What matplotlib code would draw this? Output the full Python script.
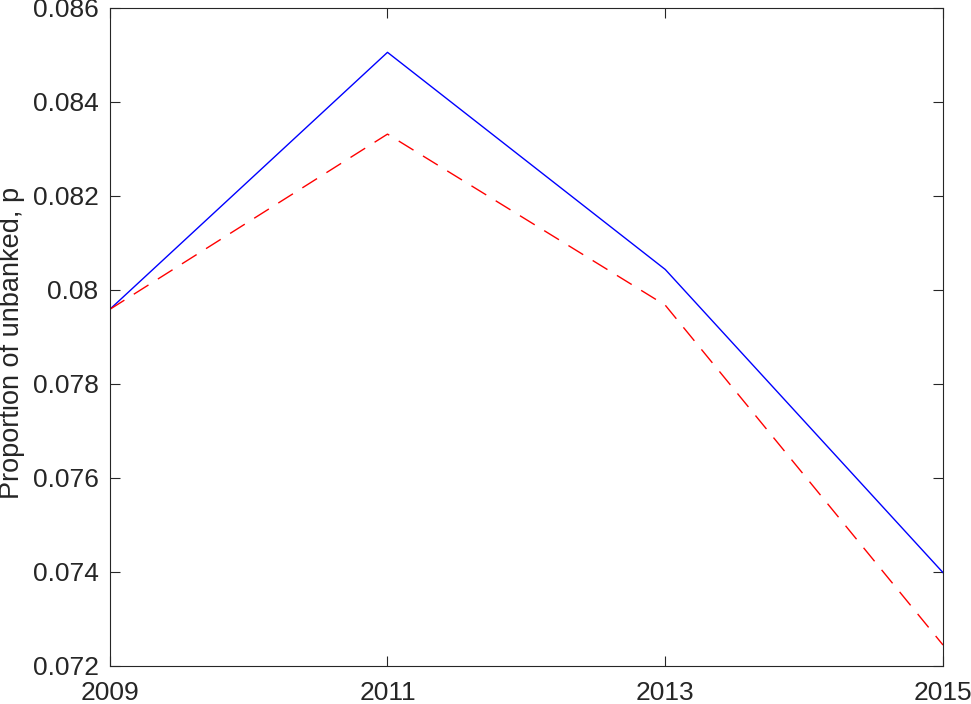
import numpy as np
import matplotlib
matplotlib.use('Agg')
import matplotlib.pyplot as plt

years = [2009, 2011, 2013, 2015]
p_solid = [0.07958, 0.08505, 0.08043, 0.07398]
p_dashed = [0.07958, 0.08331, 0.07967, 0.07244]

plt.rcParams['font.family'] = ['Liberation Sans', 'DejaVu Sans']

fig = plt.figure(figsize=(9.71, 7.04), dpi=100)
ax = fig.add_axes([0.113, 0.0544, 0.8582, 0.9347])

ax.plot(years, p_solid, color='#0000ff', lw=1.0)
ax.plot(years, p_dashed, color='#ff0000', lw=1.0, dashes=(12.5, 8))

ax.set_xlim(2009, 2015)
ax.set_ylim(0.072, 0.086)
ax.set_xticks(years)
ax.set_yticks([0.072, 0.074, 0.076, 0.078, 0.08, 0.082, 0.084, 0.086])
ax.set_yticklabels(['0.072', '0.074', '0.076', '0.078', '0.08', '0.082', '0.084', '0.086'])
ax.set_ylabel('Proportion of unbanked, p', fontsize=19.5, color='#262626')
ax.yaxis.set_label_coords(-0.1015, 0.49)

ax.tick_params(direction='in', top=True, right=True, length=7, width=0.8,
               labelsize=19, colors='#262626')
ax.tick_params(axis='y', pad=8)
ax.tick_params(axis='x', pad=11)
for s in ax.spines.values():
    s.set_color('#262626')
    s.set_linewidth(0.8)

fig.savefig('out.png', dpi=100)
